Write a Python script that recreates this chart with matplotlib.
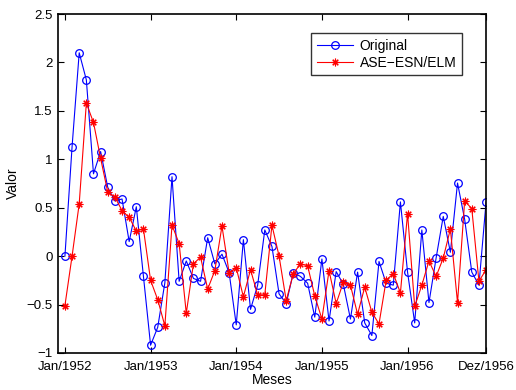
import numpy as np
import matplotlib
matplotlib.use("Agg")
import matplotlib.pyplot as plt

plt.rcParams["font.family"] = ["Liberation Sans", "DejaVu Sans"]

# monthly series, Jan/1952 .. Dez/1956
original = [0.00, 1.13, 2.10, 1.82, 0.85, 1.08, 0.71, 0.57, 0.59, 0.15, 0.51, -0.21,
            -0.92, -0.735, -0.275, 0.82, -0.26, -0.05, -0.23, -0.26, 0.19, -0.08, 0.02, -0.17,
            -0.71, 0.17, -0.55, -0.30, 0.27, 0.10, -0.39, -0.49, -0.17, -0.21, -0.28, -0.63,
            -0.03, -0.67, -0.16, -0.29, -0.65, -0.165, -0.69, -0.82, -0.055, -0.28, -0.30, 0.56,
            -0.165, -0.69, 0.27, -0.48, -0.02, 0.41, 0.04, 0.755, 0.38, -0.165, -0.30, 0.56]
predicted = [-0.51, 0.00, 0.54, 1.58, 1.38, 1.01, 0.66, 0.61, 0.47, 0.40, 0.26, 0.28,
             -0.25, -0.45, -0.72, 0.32, 0.13, -0.59, -0.08, -0.01, -0.34, -0.15, 0.31, -0.17,
             -0.12, -0.42, -0.14, -0.40, -0.40, 0.32, 0.00, -0.46, -0.18, -0.08, -0.10, -0.41,
             -0.65, -0.15, -0.49, -0.27, -0.30, -0.60, -0.32, -0.58, -0.70, -0.25, -0.18, -0.38,
             0.44, -0.52, -0.30, -0.05, -0.21, -0.02, 0.28, -0.48, 0.57, 0.49, -0.26, -0.14]
xtick_pos = [1, 13, 25, 37, 49, 60]
xtick_labels = ["Jan/1952", "Jan/1953", "Jan/1954", "Jan/1955", "Jan/1956", "Dez/1956"]
yticks = [-1, -0.5, 0, 0.5, 1, 1.5, 2, 2.5]

months = np.arange(1, len(original) + 1)

fig = plt.figure(figsize=(5.16, 3.9), dpi=100)
ax = fig.add_axes([0.112, 0.095, 0.83, 0.869])

ax.plot(months, original, color="#0000ff", lw=0.8, marker="o", ms=5.5,
        mfc="none", mec="#0000ff", mew=0.9, label="Original")
ax.plot(months, predicted, color="#ff0000", lw=0.8, marker=(8, 2, 0), ms=5.5,
        mec="#ff0000", mew=0.8, label="ASE\u2212ESN/ELM")

ax.set_xlim(0, 60)
ax.set_ylim(-1, 2.5)
ax.set_xticks(xtick_pos)
ax.set_xticklabels(xtick_labels)
ax.set_yticks(yticks)
ax.set_yticklabels(["\u22121", "\u22120.5", "0", "0.5", "1", "1.5", "2", "2.5"])
ax.tick_params(direction="in", top=True, right=True, length=4, width=0.8, labelsize=9.5)
ax.tick_params(axis="x", pad=5.5)
for sp in ax.spines.values():
    sp.set_linewidth(1.2)

ax.set_xlabel("Meses", fontsize=10, labelpad=0)
ax.set_ylabel("Valor", fontsize=10, labelpad=5)

leg = ax.legend(loc="upper right", bbox_to_anchor=(0.944, 0.943), fontsize=10,
                frameon=True, fancybox=False, handlelength=2.6, borderpad=0.4,
                labelspacing=0.2, handletextpad=0.5, borderaxespad=0)
leg.get_frame().set_edgecolor("black")
leg.get_frame().set_linewidth(1.0)

fig.savefig("out.png", dpi=100)
